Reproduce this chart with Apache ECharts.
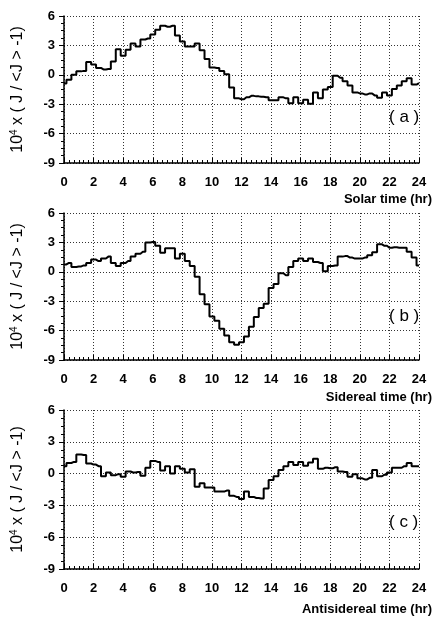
<!DOCTYPE html>
<html>
<head>
<meta charset="utf-8">
<script src="https://cdn.jsdelivr.net/npm/echarts@6/dist/echarts.min.js"></script>
<style>
  html, body { margin: 0; padding: 0; background: #fff; }
  #chart { width: 437px; height: 619px; }
</style>
</head>
<body>
<div id="chart"></div>
<script>
// 20-minute bins, bin centres at 0, 1/3, ... 24 hr
const solar = [
  -0.9, -0.5, 0.0, 0.35, 0.4, 1.3, 1.05, 0.7, 0.55, 0.6, 1.35, 2.6,
  1.95, 2.55, 3.2, 2.9, 3.6, 3.7, 4.1, 4.6, 5.0, 4.9, 5.0, 4.0,
  3.4, 2.9, 2.9, 3.2, 2.5, 1.6, 0.75, 0.7, 0.4, 0.05, -1.3, -2.4,
  -2.5, -2.3, -2.15, -2.2, -2.25, -2.3, -2.6, -2.6, -2.3, -2.4, -2.9, -2.3,
  -2.9, -2.55, -2.95, -1.8, -2.4, -1.5, -1.25, -0.1, -0.3, -0.65, -1.1, -1.8,
  -1.9, -2.0, -1.9, -2.1, -2.35, -1.8, -2.1, -1.45, -1.1, -0.65, -0.35, -1.0,
  -0.85
];
const sidereal = [
  0.75, 0.9, 0.5, 0.55, 0.65, 0.9, 1.25, 1.1, 1.35, 1.55, 0.9, 0.6,
  0.9, 1.1, 1.55, 1.85, 2.05, 3.0, 3.05, 2.65, 1.95, 2.4, 2.4, 1.35,
  1.85, 1.1, 0.6, -0.5, -2.3, -3.3, -4.55, -5.0, -5.8, -6.5, -7.2, -7.45,
  -7.2, -6.6, -5.6, -4.6, -3.7, -3.25, -1.65, -1.25, -0.15, -0.35, 0.5, 1.1,
  1.35, 1.1, 1.35, 1.0, 0.9, 0.05, 0.6, 0.65, 1.55, 1.6, 1.45, 1.35,
  1.35, 1.45, 1.7, 2.0, 2.8, 2.65, 2.45, 2.5, 2.45, 2.45, 2.05, 1.45,
  0.65
];
const antisidereal = [
  0.7, 1.0, 1.1, 1.8, 1.75, 0.95, 0.85, 0.7, -0.25, 0.1, -0.15, -0.05,
  -0.3, 0.2, 0.1, 0.15, -0.2, 0.55, 1.2, 1.1, 0.3, 0.7, 0.0, 0.7,
  0.45, 0.1, 0.4, -1.25, -0.9, -1.3, -1.3, -1.7, -1.7, -1.6, -2.1, -2.2,
  -2.4, -1.7, -2.2, -2.3, -2.35, -1.4, -0.6, -0.25, 0.35, 0.7, 1.1, 0.8,
  1.1, 0.75, 1.05, 1.4, 0.45, 0.55, 0.5, 0.6, 0.2, 0.15, -0.3, -0.05,
  -0.45, -0.55, -0.4, 0.35, -0.25, -0.1, 0.1, 0.55, 0.55, 0.7, 1.0, 0.7,
  0.7
];
const hours = solar.map((v, i) => i / 3);

const xTitles = ['Solar time (hr)', 'Sidereal time (hr)', 'Antisidereal time (hr)'];
const panelTags = ['( a )', '( b )', '( c )'];

const FONT = '"Liberation Sans", Arial, sans-serif';
const grids = [
  { left: 64, top: 16, width: 355, height: 147 },
  { left: 64, top: 213, width: 355, height: 147 },
  { left: 64, top: 410, width: 355, height: 159 }
];

const dotted = { show: true, lineStyle: { color: '#333', width: 1, type: [1, 2] } };

function xAxisFor(i) {
  return {
    type: 'value', gridIndex: i, min: 0, max: 24, interval: 2,
    axisLine: { show: true, onZero: false, lineStyle: { color: '#000', width: 1.5 } },
    axisTick: { show: true, inside: true, length: 5, lineStyle: { color: '#000', width: 1 } },
    minorTick: { show: true, splitNumber: 6, length: 3, lineStyle: { color: '#000', width: 1 } },
    axisLabel: { color: '#000', fontFamily: FONT, fontSize: 13, fontWeight: 'bold', margin: 13 },
    splitLine: dotted
  };
}

function yAxisFor(i) {
  return {
    type: 'value', gridIndex: i, min: -9, max: 6, interval: 3,
    axisLine: { show: true, onZero: false, lineStyle: { color: '#000', width: 1.5 } },
    axisTick: { show: true, length: 5, lineStyle: { color: '#000', width: 1 } },
    minorTick: { show: true, splitNumber: 4, length: 3, lineStyle: { color: '#000', width: 1 } },
    axisLabel: { color: '#000', fontFamily: FONT, fontSize: 13, fontWeight: 'bold', margin: 9 },
    splitLine: dotted,
    name: '10{sup|4} x ( J / <J > -1)',
    nameLocation: 'middle',
    nameGap: 37,
    nameTextStyle: {
      color: '#000', fontFamily: FONT, fontSize: 16,
      rich: { sup: { fontFamily: FONT, fontSize: 10, color: '#000', padding: [0, 0, 8, 0] } }
    }
  };
}

const sets = [solar, sidereal, antisidereal];
const titleTops = [193, 391, 603];
const tagTops = [109, 308, 514];

const titles = [];
xTitles.forEach((t, i) => {
  titles.push({
    text: t, right: 5, top: titleTops[i], padding: 0,
    textStyle: { color: '#000', fontFamily: FONT, fontSize: 13, fontWeight: 'bold' }
  });
  titles.push({
    text: panelTags[i], left: 389, top: tagTops[i], padding: 0,
    textStyle: { color: '#000', fontFamily: FONT, fontSize: 17, fontWeight: 'normal' }
  });
});

const myChart = echarts.init(document.getElementById('chart'));
myChart.setOption({
  animation: false,
  backgroundColor: '#fff',
  title: titles,
  grid: grids,
  xAxis: [0, 1, 2].map(xAxisFor),
  yAxis: [0, 1, 2].map(yAxisFor),
  series: sets.map((vals, i) => ({
    type: 'line',
    xAxisIndex: i,
    yAxisIndex: i,
    step: 'middle',
    showSymbol: false,
    lineStyle: { color: '#000', width: 2 },
    data: hours.map((h, k) => [h, vals[k]])
  }))
});
</script>
</body>
</html>
